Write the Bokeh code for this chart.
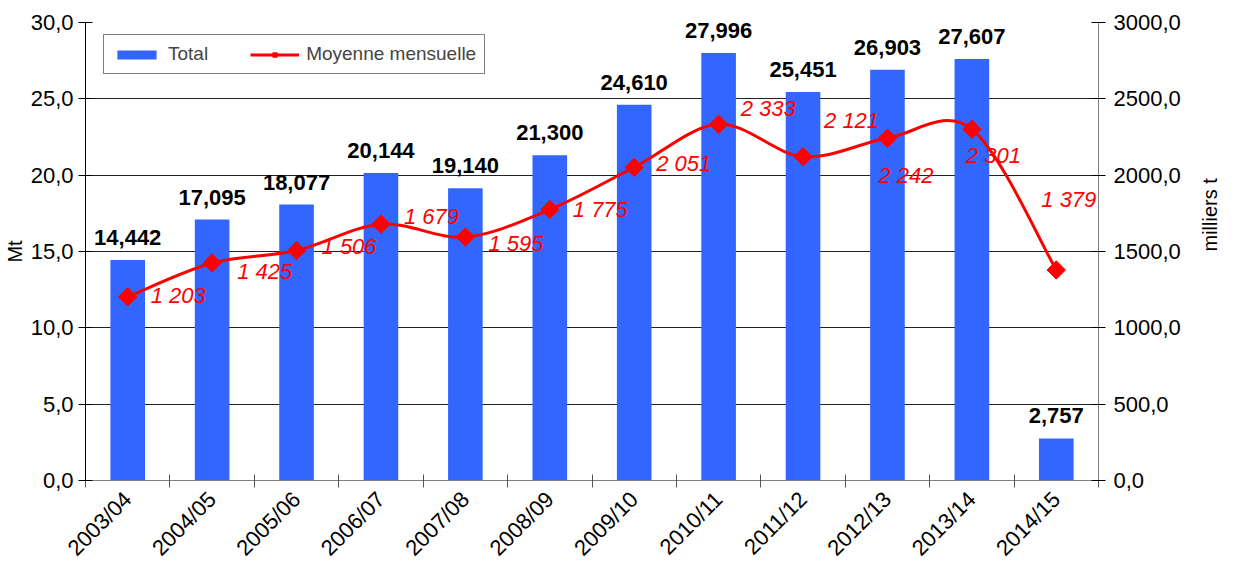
import math
from bokeh.plotting import figure
from bokeh.models import (ColumnDataSource, Range1d, LinearAxis, FixedTicker,
                          Legend, LegendItem, CustomJSTickFormatter, LabelSet)
from bokeh.core.properties import value
from bokeh.embed import file_html
from bokeh.resources import INLINE

# ---- data ----
campaigns = ["2003/04", "2004/05", "2005/06", "2006/07", "2007/08", "2008/09",
             "2009/10", "2010/11", "2011/12", "2012/13", "2013/14", "2014/15"]
total_mt = [14.442, 17.095, 18.077, 20.144, 19.140, 21.300,
            24.610, 27.996, 25.451, 26.903, 27.607, 2.757]
monthly_avg_kt = [1203, 1425, 1506, 1679, 1595, 1775,
                  2051, 2333, 2121, 2242, 2301, 1379]
left_ticks = [0, 5, 10, 15, 20, 25, 30]
right_ticks = [0, 500, 1000, 1500, 2000, 2500, 3000]

# label placement (screen px offsets, styling only)
avg_label_dx = [23, 25, 25, 23, 23, 23, 22, 22, 21, -9, -6, -15]
avg_label_dy = [-1, 9, -4, -8, 7, 0, -4, -16, -36, 37, 26, -70]

FONT = "Liberation Sans"
BLUE = "#3366FF"
RED = "#FF0000"

n = len(campaigns)
xc = [i + 0.5 for i in range(n)]

src = ColumnDataSource(dict(
    xc=xc, total=total_mt, avg=monthly_avg_kt,
    total_lbl=[f"{v:.3f}".replace(".", ",") for v in total_mt],
    avg_lbl=[f"{v:,}".replace(",", " ") for v in monthly_avg_kt],
    dx=avg_label_dx, dy=[-d for d in avg_label_dy],
))

# smoothed curve control points (Catmull-Rom style, drawn as Bezier by Bokeh)
ys = monthly_avg_kt
bz = dict(x0=[], y0=[], x1=[], y1=[], cx0=[], cy0=[], cx1=[], cy1=[])
for i in range(n - 1):
    xp, yp = (xc[i - 1], ys[i - 1]) if i > 0 else (xc[i], ys[i])
    xn2, yn2 = (xc[i + 2], ys[i + 2]) if i + 2 < n else (xc[i + 1], ys[i + 1])
    bz["x0"].append(xc[i]); bz["y0"].append(ys[i])
    bz["x1"].append(xc[i + 1]); bz["y1"].append(ys[i + 1])
    bz["cx0"].append(xc[i] + (xc[i + 1] - xp) / 6)
    bz["cy0"].append(ys[i] + (ys[i + 1] - yp) / 6)
    bz["cx1"].append(xc[i + 1] - (xn2 - xc[i]) / 6)
    bz["cy1"].append(ys[i + 1] - (yn2 - ys[i]) / 6)
bz_src = ColumnDataSource(bz)

p = figure(width=1234, height=572, x_range=Range1d(0, n), y_range=Range1d(0, 30),
           output_backend="svg", toolbar_location=None,
           min_border_left=85, min_border_right=131, min_border_top=22, min_border_bottom=91)
p.extra_y_ranges = {"kt": Range1d(0, 3000)}
p.outline_line_color = None
p.background_fill_color = "white"

bars = p.vbar(x="xc", top="total", width=0.41, source=src,
              fill_color=BLUE, line_color=None)

curve = p.bezier(x0="x0", y0="y0", x1="x1", y1="y1", cx0="cx0", cy0="cy0",
                 cx1="cx1", cy1="cy1", source=bz_src, line_color=RED,
                 line_width=3, y_range_name="kt")
pts = p.scatter(x="xc", y="avg", source=src, marker="square", angle=math.pi / 4,
                size=13, fill_color=RED, line_color=RED, y_range_name="kt")

avg_labels = LabelSet(x="xc", y="avg", text="avg_lbl", source=src, y_range_name="kt",
                      x_offset="dx", y_offset="dy", text_align="left",
                      text_baseline="middle", text_color=RED, text_font=value(FONT),
                      text_font_style="italic", text_font_size="22px")
p.add_layout(avg_labels)

p.text(x="xc", y="total", text="total_lbl", source=src, y_offset=-15,
       text_align="center", text_baseline="bottom", text_color="black",
       text_font=value(FONT), text_font_style="bold", text_font_size="22px")

# grid
p.xgrid.visible = False
p.ygrid.ticker = FixedTicker(ticks=left_ticks)
p.ygrid.grid_line_color = "#222222"
p.ygrid.grid_line_width = 1

# x axis
xa = p.xaxis[0]
xa.ticker = FixedTicker(ticks=xc, minor_ticks=list(range(n + 1)))
xa.formatter = CustomJSTickFormatter(args=dict(labels=campaigns),
                                     code="return labels[Math.floor(tick)];")
xa.major_label_orientation = math.pi / 4
xa.major_tick_in = 0
xa.major_tick_out = 0
xa.minor_tick_in = 6
xa.minor_tick_out = 7
xa.minor_tick_line_color = "#555555"
xa.axis_line_color = "#808080"
xa.major_label_text_font = FONT
xa.major_label_text_font_size = "22px"
xa.major_label_text_color = "black"
xa.major_label_standoff = 8

# left axis
ya = p.yaxis[0]
ya.ticker = FixedTicker(ticks=left_ticks)
ya.formatter = CustomJSTickFormatter(code="return tick.toFixed(1).replace('.', ',');")
ya.minor_tick_line_color = None
ya.major_tick_in = 7
ya.major_tick_out = 7
ya.axis_line_color = "black"
ya.major_label_text_font = FONT
ya.major_label_text_font_size = "22px"
ya.major_label_text_color = "black"
ya.major_label_standoff = 5
ya.axis_label = "Mt"
ya.axis_label_text_font = FONT
ya.axis_label_text_font_style = "normal"
ya.axis_label_text_font_size = "20px"
ya.axis_label_text_color = "black"
ya.axis_label_standoff = 2

# right axis
ra = LinearAxis(y_range_name="kt", ticker=FixedTicker(ticks=right_ticks),
                formatter=CustomJSTickFormatter(code="return tick.toFixed(1).replace('.', ',');"))
ra.minor_tick_line_color = None
ra.major_tick_in = 7
ra.major_tick_out = 7
ra.axis_line_color = "#808080"
ra.major_label_text_font = FONT
ra.major_label_text_font_size = "22px"
ra.major_label_text_color = "black"
ra.major_label_standoff = 8
ra.axis_label = "milliers t"
ra.axis_label_text_font = FONT
ra.axis_label_text_font_style = "normal"
ra.axis_label_text_font_size = "20px"
ra.axis_label_text_color = "black"
ra.axis_label_standoff = 26
try:
    ra.axis_label_orientation = math.pi / 2
except Exception:
    pass
p.add_layout(ra, "right")

legend = Legend(items=[LegendItem(label="Total", renderers=[bars]),
                       LegendItem(label="Moyenne mensuelle", renderers=[curve, pts])],
                orientation="horizontal", location=(18, 406), margin=0, padding=8,
                glyph_width=49, glyph_height=11, label_standoff=7, spacing=42,
                label_text_font=FONT, label_text_font_size="19px",
                border_line_color="black", border_line_width=1,
                background_fill_color="white", background_fill_alpha=1)
p.add_layout(legend)

open("out.html", "w").write(file_html(p, INLINE))
